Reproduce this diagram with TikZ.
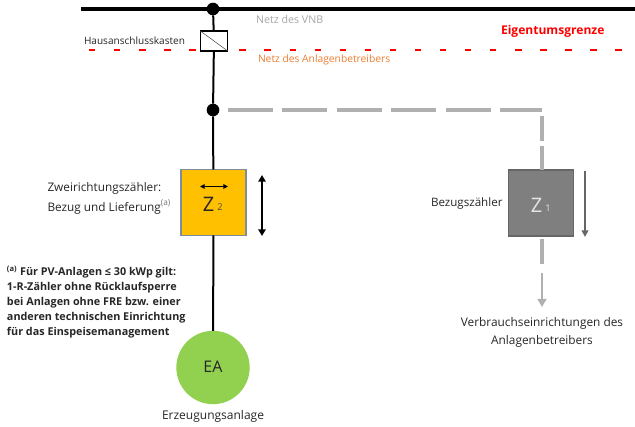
\documentclass[tikz,border=0pt]{standalone}
\usepackage{fontspec}
\setmainfont{Open Sans}
\usetikzlibrary{arrows.meta}
\definecolor{dashgrey}{HTML}{B0B0B0}
\definecolor{meterorange}{HTML}{FFC000}
\definecolor{meterborder}{HTML}{7F8C9A}
\definecolor{metergrey}{HTML}{7F7F7F}
\definecolor{eagreen}{HTML}{92D050}
\definecolor{nettext}{HTML}{A6A6A6}
\definecolor{anlagetext}{HTML}{ED7D31}
\tikzset{
  x=0.75pt,y=-0.75pt,
  every node/.style={inner sep=0pt,outer sep=0pt},
  lbl/.style={font=\fontsize{8.85pt}{11pt}\selectfont,text=black!85},
  dotnode/.style={circle,fill=black,minimum size=9.5pt},
  meter/.style={draw,line width=1.1pt,minimum width=48.5pt,minimum height=49.5pt},
  blackline/.style={line width=1.5pt,black},
  greydash/.style={line width=3pt,dashgrey,dash pattern=on 33.75pt off 7.1pt},
  greyseg/.style={line width=3pt,dashgrey},
}
\begin{document}
\begin{tikzpicture}
\useasboundingbox (0,0) rectangle (635,427);
% coordinates
\coordinate (busL) at (81,9);
\coordinate (busR) at (635,9);
\coordinate (redL) at (89,50);
\coordinate (redR) at (635,50);
\coordinate (corner) at (542,110);
\coordinate (dashS) at (228,110);
\coordinate (v1) at (542,116);
\coordinate (v2) at (542,141);
\coordinate (v3) at (542,146);
\coordinate (v4) at (542,170);
\coordinate (v5) at (542,239);
\coordinate (v6) at (542,264);
\coordinate (v7) at (542,273);
\coordinate (v8) at (542,307);
% lines below nodes
\draw[line width=3pt,black] (busL) -- (busR);
\draw[line width=2pt,red,dash pattern=on 4.8pt off 14pt] (redL) -- (redR);
\node[dotnode] (d1) at (213,9) {};
\node[dotnode] (d2) at (213,110) {};
\node[draw,fill=white,line width=1.1pt,minimum width=20.5pt,minimum height=15pt] (hak) at (214,41) {};
\draw[line width=0.4pt,black!70] (hak.north west) -- (hak.south east);
\node[meter,fill=meterorange,draw=meterborder] (z2) at (213.5,202.5) {};
\node[meter,fill=metergrey,draw=black!60] (z1) at (541,203) {};
\node[circle,fill=eagreen,minimum size=55pt] (ea) at (213,367.5) {};
\draw[blackline] (d1) -- (hak);
\draw[blackline] (hak) -- (d2);
\draw[blackline] (d2) -- (z2);
\draw[blackline] (z2) -- (ea);
% grey dashed
\draw[greydash] (dashS) -- (corner);
\draw[greyseg] (v1) -- (v2);
\draw[greyseg] (v3) -- (v4);
\draw[greyseg] (v5) -- (v6);
\draw[line width=2pt,dashgrey,-{Triangle[length=6pt,width=6.5pt]}] (v7) -- (v8);
% arrows
\coordinate (a1) at (262,175);
\coordinate (a2) at (262,236);
\draw[line width=1.5pt,black,{Triangle[length=5pt,width=5.5pt]}-{Triangle[length=5pt,width=5.5pt]}] (a1) -- (a2);
\coordinate (a3) at (585,171);
\coordinate (a4) at (585,237);
\draw[line width=1.7pt,black!60,-{Triangle[length=5pt,width=5pt]}] (a3) -- (a4);
\coordinate (a5) at (200,186.5);
\coordinate (a6) at (228,186.5);
\draw[line width=0.8pt,black,{Triangle[length=3.5pt,width=3.5pt]}-{Triangle[length=3.5pt,width=3.5pt]}] (a5) -- (a6);
% labels
\node[font=\fontsize{8pt}{9pt}\selectfont,text=nettext,anchor=west] (tvnb) at (256,20) {Netz des VNB};
\node[font=\fontsize{7.7pt}{9pt}\selectfont,text=anlagetext,anchor=west] (tanl) at (258,60) {Netz des Anlagenbetreibers};
\node[font=\fontsize{7.55pt}{9pt}\selectfont,text=black!85,anchor=west] (thak) at (84,41) {Hausanschlusskasten};
\node[font=\fontsize{9.05pt}{11pt}\selectfont\bfseries,text=red,anchor=west] (teg) at (501,31) {Eigentumsgrenze};
\node[lbl,anchor=west] (tz2a) at (47.5,188) {Zweirichtungszähler:};
\node[lbl,anchor=west] (tz2b) at (47.5,207) {Bezug und Lieferung\textcolor{black!55}{\textsuperscript{(a)}}};
\node[font=\fontsize{15pt}{17pt}\selectfont,text=black!85] (tz2) at (208.5,204) {Z};
\node[font=\fontsize{7pt}{8pt}\selectfont,text=black!70] (tz2i) at (220,207) {2};
\node[font=\fontsize{15pt}{17pt}\selectfont,text=white!90!black] (tz1) at (536.5,205.5) {Z};
\node[font=\fontsize{7pt}{8pt}\selectfont,text=white!90!black] (tz1i) at (548,208) {1};
\node[font=\fontsize{8.7pt}{10pt}\selectfont,text=black!85,anchor=west] (tbez) at (431,203) {Bezugszähler};
\node[font=\fontsize{8.1pt}{11.25pt}\selectfont\bfseries,text=black!85,align=left,anchor=north west] (tnote) at (7,266) {\textsuperscript{(a)} Für PV-Anlagen ≤ 30 kWp gilt:\\1-R-Zähler ohne Rücklaufsperre\\bei Anlagen ohne FRE bzw. einer\\anderen technischen Einrichtung\\für das Einspeisemanagement};
\node[font=\fontsize{8.9pt}{13pt}\selectfont,text=black!85,align=center] (tver) at (542,332.5) {Verbrauchseinrichtungen des\\Anlagenbetreibers};
\node[font=\fontsize{12pt}{14pt}\selectfont,text=black!85] (tea) at (213,367) {EA};
\node[font=\fontsize{9pt}{11pt}\selectfont,text=black!85] (terz) at (213,416) {Erzeugungsanlage};
\end{tikzpicture}
\end{document}
